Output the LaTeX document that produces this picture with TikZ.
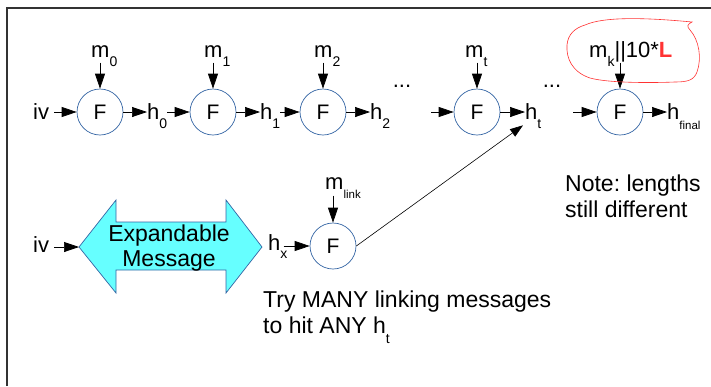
\documentclass[tikz,border=0pt]{standalone}
\usepackage{fontspec}
\setmainfont{Liberation Sans}
\usetikzlibrary{arrows.meta}
\frenchspacing
% lowered subscript: drop (pt), size (pt), text
\newcommand\lsub[3]{\raisebox{-#1pt}{\fontsize{#2}{#2}\selectfont #3}}
\definecolor{ringblue}{RGB}{52,101,164}
\definecolor{aqua}{RGB}{102,255,255}
\definecolor{markred}{RGB}{255,51,51}
\begin{document}
\begin{tikzpicture}[x=1pt,y=-1pt,
  fnode/.style={circle, draw=ringblue, fill=white, line width=0.7pt,
    minimum size=46pt, inner sep=0pt, font=\fontsize{21}{21}\selectfont},
  lbl/.style={inner sep=0pt, anchor=base west, font=\fontsize{22}{24}\selectfont},
  note/.style={inner sep=0pt, anchor=base west, align=left, font=\fontsize{23}{26}\selectfont},
  arr/.style={-{Triangle[length=15pt,width=10pt]}, line width=0.7pt},
  thinarr/.style={-{Triangle[length=13pt,width=9pt]}, line width=0.6pt}]
\useasboundingbox (0,0) rectangle (711,386);
% frame
\draw[line width=1.4pt, black!80] (7,386) -- (7,8) -- (711,8);

% ---- top chain ----
\node[fnode] (F0) at (100,112) {F};
\node[fnode] (F1) at (213,112) {F};
\node[fnode] (F2) at (323,112) {F};
\node[fnode] (Ft) at (477,112) {F};
\node[fnode] (Fk) at (620,112) {F};

\node[lbl] (iv1) at (33,119) {iv};
\node[lbl] (h0) at (147,119) {h\lsub{9}{14}{0}};
\node[lbl] (h1) at (260,119) {h\lsub{9}{14}{1}};
\node[lbl] (h2) at (370,119) {h\lsub{9}{14}{2}};
\node[lbl] (ht) at (525,119) {h\lsub{9}{14}{t}};
\node[lbl] (hf) at (667,119) {h\lsub{10}{11.5}{final}};

\node[lbl] (m0) at (91,57) {m\lsub{9}{14}{0}};
\node[lbl] (m1) at (204,57) {m\lsub{9}{14}{1}};
\node[lbl] (m2) at (314,57) {m\lsub{9}{14}{2}};
\node[lbl] (mt) at (465,57) {m\lsub{9}{14}{t}};
\node[lbl] (mk) at (589,57) {m\lsub{9}{14}{k}||10*{\bfseries\color{markred}L}};

\node[lbl, anchor=center] (dots1) at (402,86) {...};
\node[lbl, anchor=center] (dots2) at (552,86) {...};

\coordinate (inT) at (431,112);
\coordinate (inK) at (573,112);

\draw[arr] ([xshift=5pt]iv1.east |- F0.west) -- (F0.west);
\draw[arr] (F0.east) -- (h0.west |- F0.east);
\draw[arr] (h0.east |- F1.west) -- (F1.west);
\draw[arr] (F1.east) -- (h1.west |- F1.east);
\draw[arr] (h1.east |- F2.west) -- (F2.west);
\draw[arr] (F2.east) -- (h2.west |- F2.east);
\draw[arr] (inT) -- (Ft.west);
\draw[arr] (Ft.east) -- (ht.west |- Ft.east);
\draw[arr] (inK) -- (Fk.west);
\draw[arr] (Fk.east) -- (hf.west |- Fk.east);

\foreach \f in {F0,F1,F2,Ft,Fk}
  \draw[arr] ([yshift=26pt]\f.north) -- (\f.north);

% red outline round the final message block
\draw[markred, line width=0.6pt]
  (585,25) .. controls (605,16) and (650,18) .. (692,22)
  .. controls (688,24) and (686,26) .. (690,30)
  .. controls (699,40) and (702,58) .. (697,72)
  .. controls (694,80) and (688,82) .. (675,82)
  .. controls (650,83) and (608,83) .. (590,78)
  .. controls (572,72) and (566,58) .. (567,45)
  .. controls (568,34) and (575,28) .. (585,25);

% ---- linking row ----
\node[lbl] (iv2) at (33,252) {iv};
\coordinate (expL) at (79,247);
\coordinate (expR) at (262,247);
\fill[aqua, draw=ringblue, line width=0.7pt]
  (expL) -- (116,200) -- (116,222) -- (226,222) -- (226,200) -- (expR)
  -- (226,293) -- (226,270) -- (116,270) -- (116,293) -- cycle;
\node[inner sep=0pt, align=center, font=\fontsize{23}{25}\selectfont] (exp) at (169,248) {Expandable\\Message};
\draw[arr] ([xshift=5pt]iv2.east |- expL) -- (expL);

\node[fnode] (Fx) at (333,246) {F};
\node[lbl] (hx) at (268,250) {h\lsub{8}{14}{x}};
\node[lbl] (ml) at (325,189) {m\lsub{9}{11.5}{link}};
\draw[arr] ([xshift=-4pt]hx.east |- Fx.west) -- (Fx.west);
\draw[arr] ([yshift=27pt]Fx.north) -- (Fx.north);
\draw[thinarr] (Fx.east) -- ([shift={(-2pt,3pt)}]ht.south west);

% multi-line notes: the base anchor sits on the last line
\node[note] (try) at (263,333) {Try MANY linking messages\\to hit ANY h\lsub{10}{14}{t}};
\node[note] (nt) at (565,217) {Note: lengths\\still different};
\end{tikzpicture}
\end{document}
